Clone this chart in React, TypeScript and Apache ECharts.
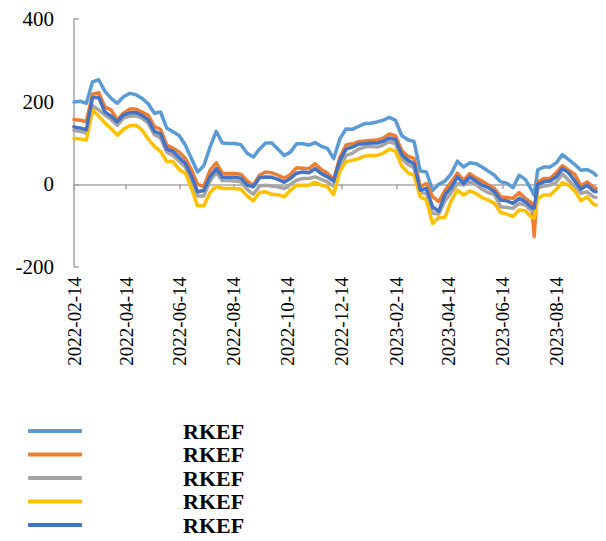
import React, { useEffect, useRef } from "react";
import * as echarts from "echarts";

const dates = [
  "2022-02-14","2022-02-21","2022-02-28","2022-03-07","2022-03-14","2022-03-21","2022-03-28","2022-04-04","2022-04-11","2022-04-18",
  "2022-04-25","2022-05-02","2022-05-09","2022-05-16","2022-05-23","2022-05-30","2022-06-06","2022-06-13","2022-06-20","2022-06-27",
  "2022-07-04","2022-07-11","2022-07-18","2022-07-25","2022-08-01","2022-08-08","2022-08-15","2022-08-22","2022-08-29","2022-09-05",
  "2022-09-12","2022-09-19","2022-09-26","2022-10-03","2022-10-10","2022-10-17","2022-10-24","2022-10-31","2022-11-07","2022-11-14",
  "2022-11-21","2022-11-28","2022-12-05","2022-12-12","2022-12-19","2022-12-26","2023-01-02","2023-01-09","2023-01-16","2023-01-23",
  "2023-01-30","2023-02-06","2023-02-13","2023-02-20","2023-02-27","2023-03-06","2023-03-13","2023-03-20","2023-03-27","2023-04-03",
  "2023-04-10","2023-04-17","2023-04-24","2023-05-01","2023-05-08","2023-05-15","2023-05-22","2023-05-29","2023-06-05","2023-06-12",
  "2023-06-19","2023-06-26","2023-07-03","2023-07-10","2023-07-17","2023-07-20","2023-07-24","2023-07-31","2023-08-07","2023-08-14",
  "2023-08-21","2023-08-28","2023-09-04","2023-09-11","2023-09-18","2023-09-25","2023-09-28",
];

const series1 = [
  199,201,196,248,253,225,208,196,212,220,
  217,208,195,172,175,136,127,118,95,62,
  30,45,90,128,100,99,99,96,75,66,
  85,100,100,85,70,78,98,98,95,101,
  92,87,62,110,134,133,140,147,148,151,
  155,162,155,118,108,104,32,30,-15,0,
  8,25,56,42,52,50,42,32,22,6,
  3,-8,22,12,-14,-26,35,42,42,52,
  72,60,48,34,36,28,22,
];
const series2 = [
  157,155,152,218,222,187,180,156,172,182,
  182,175,167,140,133,95,87,78,63,35,
  0,-5,34,52,27,26,26,24,8,-2,
  22,30,28,22,15,24,40,39,38,50,
  36,27,12,65,95,98,103,105,106,107,
  112,122,117,82,68,63,-6,2,-30,-42,
  -15,5,27,10,26,16,8,-2,-10,-30,
  -32,-34,-20,-34,-45,-126,5,14,14,28,
  45,34,24,-4,6,-8,-10,
];
const series3 = [
  131,128,124,190,180,168,157,143,160,165,
  166,160,148,120,112,78,70,56,42,10,
  -28,-28,8,28,9,9,8,6,-12,-24,
  -4,-2,-4,-6,-10,0,10,14,14,18,
  12,6,-5,40,70,75,85,90,92,90,
  95,103,98,62,48,40,-20,-22,-70,-72,
  -40,-20,2,-2,6,0,-12,-20,-25,-54,
  -56,-58,-46,-50,-64,-66,-10,-4,-2,5,
  25,10,-5,-22,-18,-30,-32,
];
const series4 = [
  111,110,107,180,165,148,135,119,133,142,
  143,131,110,92,80,55,55,36,27,-10,
  -52,-52,-20,-5,-10,-10,-10,-12,-28,-40,
  -20,-18,-24,-25,-30,-14,-2,-2,-2,5,
  -2,-6,-25,32,55,58,62,68,70,70,
  75,85,80,45,28,22,-30,-38,-95,-80,
  -80,-40,-14,-26,-16,-22,-32,-38,-46,-68,
  -72,-78,-62,-64,-80,-82,-35,-26,-26,-12,
  4,-2,-16,-40,-30,-48,-50,
];
const series5 = [
  139,136,132,210,210,175,165,151,168,173,
  174,167,156,128,122,85,80,65,51,20,
  -18,-15,18,38,17,17,17,15,-2,-6,
  16,18,17,12,5,14,27,30,28,38,
  26,18,8,58,85,90,97,98,100,100,
  104,112,108,72,58,50,-14,-10,-55,-65,
  -25,-8,18,2,18,8,-2,-8,-18,-38,
  -40,-46,-34,-42,-56,-58,0,6,8,18,
  38,28,8,-12,-2,-16,-18,
];

const tickDates = [
  "2022-02-14","2022-04-14","2022-06-14","2022-08-14","2022-10-14",
  "2022-12-14","2023-02-14","2023-04-14","2023-06-14","2023-08-14",
];
const yTicks = { min: -200, max: 400, interval: 200 };
const legendLabel = "RKEF";
const seriesNames = ["RKEF-1", "RKEF-2", "RKEF-3", "RKEF-4", "RKEF-5"];
const seriesValues = [series1, series2, series3, series4, series5];
const colors = ["#5B9BD5", "#ED7D31", "#A5A5A5", "#FFC000", "#4472C4"];

const DAY = 86400000;
const toUTC = (s: string) => {
  const [y, m, d] = s.split("-").map(Number);
  return Date.UTC(y, m - 1, d);
};
const base = toUTC(dates[0]);
const dayIndex = (s: string) => Math.round((toUTC(s) - base) / DAY);
const pad = (n: number) => (n < 10 ? "0" + n : "" + n);
const labelOf = (idx: number) => {
  const d = new Date(base + Math.round(idx) * DAY);
  return `${d.getUTCFullYear()}-${pad(d.getUTCMonth() + 1)}-${pad(d.getUTCDate())}`;
};

export default function App() {
  const ref = useRef<HTMLDivElement>(null);
  useEffect(() => {
    document.body.style.margin = "0";
    const chart = echarts.init(ref.current!, null, { renderer: "svg" });
    const axisColor = "#A6A6A6";
    const serif = "'Liberation Serif', 'Times New Roman', serif";
    const xMin = 0;
    const xMax = dayIndex(dates[dates.length - 1]);
    const tickIdx = tickDates.map(dayIndex);
    chart.setOption({
      animation: false,
      grid: { left: 74, right: 10, top: 19, bottom: 274, containLabel: false },
      xAxis: [
        {
          type: "value",
          min: xMin,
          max: xMax,
          position: "bottom",
          axisLine: { show: false, onZero: false },
          axisTick: { show: false },
          splitLine: { show: false },
          axisLabel: {
            customValues: tickIdx,
            rotate: 90,
            margin: 10,
            fontFamily: serif,
            fontSize: 19,
            color: "#000",
            formatter: (v: number) => labelOf(v),
            hideOverlap: false,
          },
        },
        {
          type: "value",
          min: xMin,
          max: xMax,
          position: "top",
          axisLine: { show: true, onZero: true, lineStyle: { color: axisColor, width: 1.5 } },
          axisTick: {
            show: true,
            inside: true,
            length: 5,
            customValues: tickIdx,
            lineStyle: { color: axisColor, width: 1.5 },
          },
          axisLabel: { show: false },
          splitLine: { show: false },
        },
      ],
      yAxis: {
        type: "value",
        min: yTicks.min,
        max: yTicks.max,
        interval: yTicks.interval,
        axisLine: { show: true, lineStyle: { color: axisColor, width: 1.5 } },
        axisTick: { show: true, inside: true, length: 5, lineStyle: { color: axisColor, width: 1.5 } },
        splitLine: { show: false },
        axisLabel: { fontFamily: serif, fontSize: 21, color: "#000", margin: 20 },
      },
      legend: {
        orient: "vertical",
        left: 28,
        top: 420,
        padding: 0,
        icon: "roundRect",
        itemWidth: 54,
        itemHeight: 4,
        itemGap: 1.5,
        selectedMode: false,
        data: seriesNames,
        formatter: () => `{t|${legendLabel}}`,
        textStyle: {
          rich: {
            t: {
              fontFamily: serif,
              fontWeight: "bold",
              fontSize: 22,
              color: "#000",
              padding: [0, 0, 0, 96],
              lineHeight: 22,
            },
          },
        },
      },
      series: seriesNames.map((name, i) => ({
        name,
        type: "line",
        xAxisIndex: 0,
        yAxisIndex: 0,
        symbol: "none",
        showSymbol: false,
        color: colors[i],
        itemStyle: { color: colors[i] },
        lineStyle: { width: 3.5, color: colors[i], cap: "round", join: "round" },
        data: dates.map((d, j) => [dayIndex(d), seriesValues[i][j]]),
      })),
    });
    return () => chart.dispose();
  }, []);
  return <div ref={ref} style={{ width: 606, height: 541 }} />;
}
